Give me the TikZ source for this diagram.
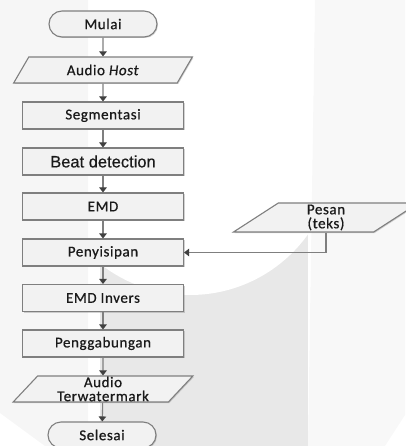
\documentclass[tikz,border=0pt]{standalone}
\usepackage{fontspec}
\setmainfont{Carlito}
\newfontfamily\spaced[LetterSpace=4,FakeBold=0.7]{Carlito}
\newfontfamily\arialf[FakeBold=0.5]{Liberation Sans}
\usetikzlibrary{shapes.geometric,shapes.misc,shadows,arrows.meta}
\definecolor{linegray}{HTML}{7F7F7F}
\definecolor{tipgray}{HTML}{404040}
\definecolor{boxfill}{HTML}{F2F2F2}
\definecolor{textcol}{HTML}{1A1A1A}
\definecolor{bgleft}{HTML}{F6F6F6}
\definecolor{bgband}{HTML}{E8E8E8}
\definecolor{bgright}{HTML}{F8F8F8}
\begin{document}
\begin{tikzpicture}[x=1pt,y=-1pt,
  base/.style={draw=linegray, line width=1.1pt, fill=boxfill, text=textcol, inner sep=0pt,
    font=\spaced\fontsize{15}{14}\selectfont, align=center,
    drop shadow={shadow xshift=1pt, shadow yshift=-1pt, opacity=0.35, fill=gray}},
  procbox/.style={base, rectangle, minimum width=161pt, minimum height=27pt},
  termbox/.style={base, rounded rectangle, minimum width=108pt, minimum height=26pt},
  iobox/.style={base, trapezium, trapezium left angle=55, trapezium right angle=125,
    trapezium stretches=true, minimum width=180pt, minimum height=26pt},
  arr/.style={draw=linegray, line width=1.1pt, -{Triangle[length=5pt,width=7.5pt,color=tipgray]}}
]
\useasboundingbox (0,0) rectangle (405,446);
% background watermark
\fill[bgleft] (0,0) -- (88,0) -- (88,446) -- (45,446) -- (0,413) -- cycle;
\fill[bgright] (315,0) -- (405,0) -- (405,415) -- (385,446) -- (308,446) -- cycle;
\begin{scope}
  \clip (100,200) rectangle (308,446);
  \fill[bgband] (100,200) rectangle (308,446);
  \fill[white] (190,150) circle (145);
\end{scope}
% nodes
\node[termbox] (mulai) at (103,24) {Mulai};
\node[iobox] (host) at (103,70) {Audio \textit{Host}};
\node[procbox] (seg) at (103,115.5) {Segmentasi};
\node[procbox, font=\arialf\fontsize{16.5}{16.5}\selectfont] (beat) at (103,161.5) {Beat detection};
\node[procbox] (emd) at (103,206.5) {EMD};
\node[procbox] (peny) at (103,252.5) {Penyisipan};
\node[procbox] (inv) at (103,298) {EMD Invers};
\node[procbox] (gab) at (103,343.5) {Penggabungan};
\node[iobox] (tw) at (103,389) {Audio\\Terwatermark};
\node[termbox] (sel) at (102,435) {Selesai};
\node[iobox, minimum width=186pt, minimum height=29pt] (pesan) at (326,217.5) {Pesan\\(teks)};
% connectors
\draw[arr] (mulai) -- (host);
\draw[arr] (host) -- (seg);
\draw[arr] (seg) -- (beat);
\draw[arr] (beat) -- (emd);
\draw[arr] (emd) -- (peny);
\draw[arr] (peny) -- (inv);
\draw[arr] (inv) -- (gab);
\draw[arr] (gab) -- (tw);
\draw[arr] (tw) -- (sel);
\draw[arr] (pesan.south) |- (peny.east);
\end{tikzpicture}
\end{document}
